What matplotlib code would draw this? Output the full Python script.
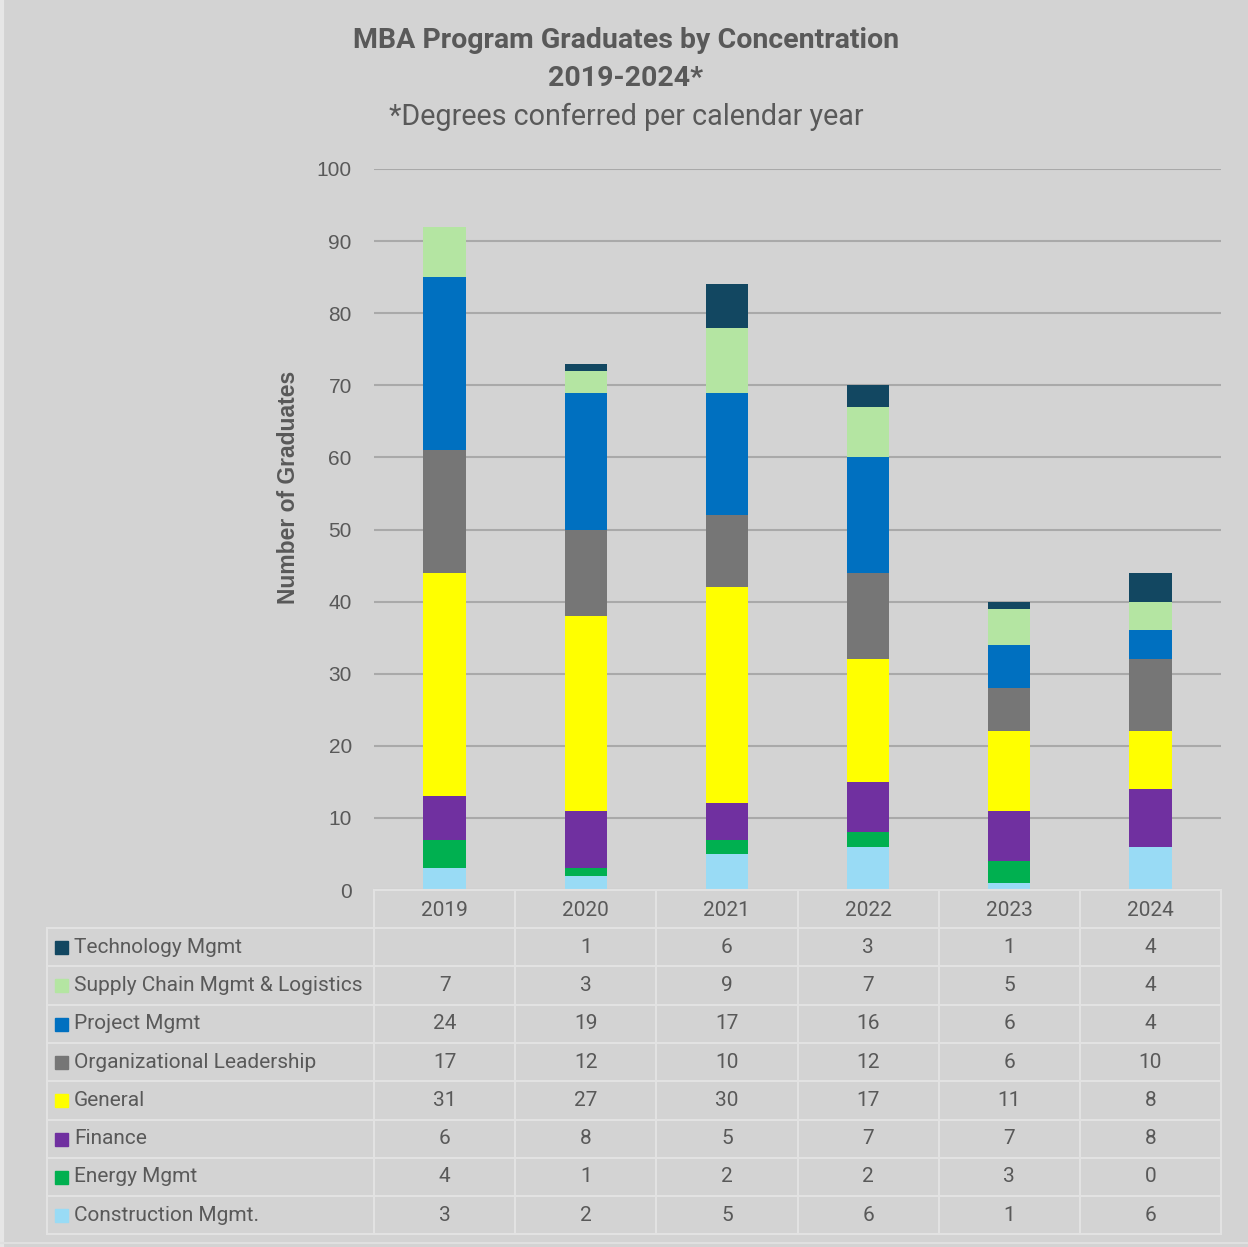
import numpy as np
import matplotlib.pyplot as plt
from matplotlib.patches import Rectangle

years = ['2019', '2020', '2021', '2022', '2023', '2024']

# bottom to top of stack
concentrations = ['Construction Mgmt.', 'Energy Mgmt', 'Finance', 'General',
                  'Organizational Leadership', 'Project Mgmt',
                  'Supply Chain Mgmt & Logistics', 'Technology Mgmt']
construction = [3, 2, 5, 6, 1, 6]
energy = [4, 1, 2, 2, 3, 0]
finance = [6, 8, 5, 7, 7, 8]
general = [31, 27, 30, 17, 11, 8]
org_leadership = [17, 12, 10, 12, 6, 10]
project = [24, 19, 17, 16, 6, 4]
supply_chain = [7, 3, 9, 7, 5, 4]
technology = [np.nan, 1, 6, 3, 1, 4]

colors = ['#99DBF5', '#00B050', '#7030A0', '#FFFF00',
          '#767676', '#0070C0', '#B4E5A2', '#124761']

series = [construction, energy, finance, general, org_leadership,
          project, supply_chain, technology]

bg = '#D3D3D3'
txt = '#595959'
narrow = ['Roboto', 'DejaVu Sans']
arial = ['Liberation Sans', 'DejaVu Sans']
plt.rcParams['font.family'] = narrow

W, H = 1248, 1247
fig = plt.figure(figsize=(W / 100, H / 100), dpi=100, facecolor=bg)

# plot area in pixels
left, right, top, bottom = 374, 1221, 169, 890
ax = fig.add_axes([left / W, 1 - bottom / H, (right - left) / W, (bottom - top) / H])
ax.set_facecolor(bg)

x = np.arange(len(years))
base = np.zeros(len(years))
for vals, c in zip(series, colors):
    v = np.nan_to_num(np.array(vals, dtype=float))
    ax.bar(x, v, bottom=base, width=0.3, color=c, zorder=3)
    base += v

ax.set_xlim(-0.5, len(years) - 0.5)
ax.set_ylim(0, 100)
ax.set_yticks(range(0, 101, 10))
ax.yaxis.grid(True, color='#A9A9A9', linewidth=1.5, zorder=0)
ax.tick_params(axis='y', length=0, pad=16, labelsize=15, labelcolor=txt)
for lb in ax.get_yticklabels():
    lb.set_family(arial)
ax.set_xticks([])
for s in ax.spines.values():
    s.set_visible(False)
ax.set_ylabel('Number of Graduates', fontsize=16.5, fontweight='bold', color=txt,
              family=arial)
ax.yaxis.set_label_coords(-(left - 300) / (right - left), (bottom - 487) / (bottom - top))

# titles
fig.text(0.5015, 1 - 40 / H, 'MBA Program Graduates by Concentration', ha='center', va='center',
         fontsize=20.5, fontweight='bold', color=txt)
fig.text(0.5015, 1 - 78 / H, '2019-2024*', ha='center', va='center',
         fontsize=20.5, fontweight='bold', color=txt)
fig.text(0.5015, 1 - 117 / H, '*Degrees conferred per calendar year', ha='center', va='center',
         fontsize=20.7, color=txt)

# data table drawn in pixel space
tab = fig.add_axes([0, 0, 1, 1], facecolor='none')
tab.set_xlim(0, W)
tab.set_ylim(H, 0)
tab.axis('off')

line_c = '#E2E2E2'
col_w = (right - left) / len(years)
row_h = 38.3
hdr_top = bottom
rows_top = 928
label_left = 47
n_rows = len(concentrations)
table_bottom = rows_top + n_rows * row_h

# faint chart border
tab.plot([1.5, 1.5], [0, H], color='#E6E6E6', lw=3)
tab.plot([0, W], [1243, 1243], color='#E0E0E0', lw=1.5)

# header row
for i, yr in enumerate(years):
    tab.text(left + (i + 0.5) * col_w, (hdr_top + rows_top) / 2 + 1, yr,
             ha='center', va='center', fontsize=15, color=txt)
# horizontal lines
tab.plot([left, right], [hdr_top, hdr_top], color=line_c, lw=1.5)
for r in range(n_rows + 1):
    yy = rows_top + r * row_h
    tab.plot([label_left, right], [yy, yy], color=line_c, lw=1.5)
# vertical lines
for i in range(len(years) + 1):
    xx = left + i * col_w
    tab.plot([xx, xx], [hdr_top, table_bottom], color=line_c, lw=1.5)
tab.plot([label_left, label_left], [rows_top, table_bottom], color=line_c, lw=1.5)

# rows: top row = last series
for r, (name, vals, c) in enumerate(zip(concentrations[::-1], series[::-1], colors[::-1])):
    yc = rows_top + (r + 0.5) * row_h
    tab.add_patch(Rectangle((55, yc - 6), 13, 13, color=c))
    tab.text(74, yc, name, ha='left', va='center', fontsize=15, color=txt)
    for i, v in enumerate(vals):
        s = '' if np.isnan(v) else str(int(v))
        tab.text(left + (i + 0.5) * col_w, yc, s, ha='center', va='center',
                 fontsize=15, color=txt)

fig.savefig('out.png', dpi=100, facecolor=bg)
